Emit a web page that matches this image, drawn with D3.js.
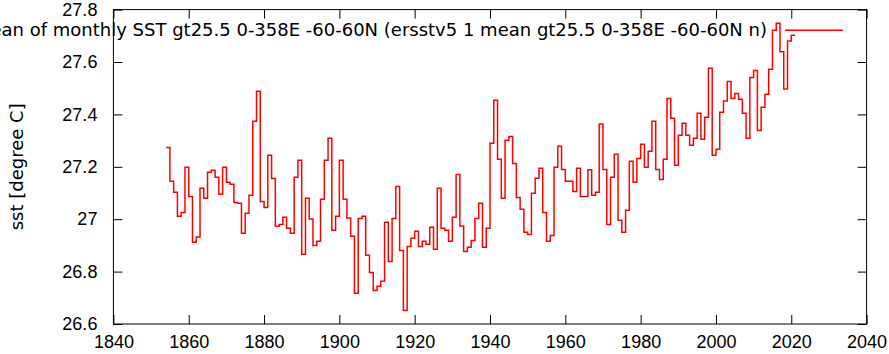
<!DOCTYPE html>
<html>
<head>
<meta charset="utf-8">
<script src="https://cdn.jsdelivr.net/npm/d3@7"></script>
<style>
  body { margin: 0; background: #fff; }
  svg { display: block; font-family: "DejaVu Sans", sans-serif; }
  .tick text { font-size: 18px; fill: #000; }
</style>
</head>
<body>
<svg width="889" height="354"></svg>
<script>
(function () {
  "use strict";

  // annual mean SST (degree C), one value per year starting 1854
  const firstYear = 1854;
  const sst = [
    27.274, 27.145, 27.103, 27.011, 27.026, 27.198, 27.087, 26.912, 26.932, 27.118, // 1854
    27.080, 27.179, 27.187, 27.160, 27.095, 27.198, 27.141, 27.133, 27.064, 27.061, // 1864
    26.946, 27.023, 27.091, 27.374, 27.488, 27.068, 27.045, 27.244, 27.155, 26.973, // 1874
    26.980, 27.007, 26.965, 26.946, 27.160, 27.225, 26.866, 27.080, 27.001, 26.900, // 1884
    26.916, 27.076, 27.225, 27.309, 26.958, 27.011, 27.225, 27.076, 27.005, 26.935, // 1894
    26.717, 27.003, 27.011, 26.862, 26.797, 26.728, 26.744, 26.763, 26.988, 26.839, // 1904
    27.003, 27.125, 26.881, 26.652, 26.896, 26.927, 26.954, 26.896, 26.916, 26.904, // 1914
    26.969, 26.885, 27.118, 26.965, 26.958, 26.916, 27.007, 27.171, 26.974, 26.877, // 1924
    26.893, 26.919, 27.003, 27.061, 26.893, 26.965, 27.290, 27.454, 27.229, 27.080, // 1934
    27.301, 27.316, 27.213, 27.083, 27.038, 26.950, 26.942, 27.099, 27.156, 27.194, // 1944
    27.026, 26.916, 26.938, 27.198, 27.278, 27.190, 27.145, 27.145, 27.106, 27.194, // 1954
    27.087, 27.087, 27.189, 27.091, 27.103, 27.363, 27.190, 26.980, 27.160, 27.248, // 1964
    26.996, 26.950, 27.034, 27.221, 27.141, 27.232, 27.286, 27.198, 27.259, 27.374, // 1974
    27.190, 27.152, 27.229, 27.461, 27.385, 27.206, 27.320, 27.366, 27.320, 27.282, // 1984
    27.309, 27.404, 27.305, 27.389, 27.576, 27.244, 27.267, 27.408, 27.451, 27.526, // 1994
    27.461, 27.480, 27.458, 27.404, 27.309, 27.541, 27.568, 27.339, 27.427, 27.477, // 2004
    27.572, 27.721, 27.748, 27.639, 27.497, 27.680, 27.702                          // 2014
  ];

  const xTicks = [1840, 1860, 1880, 1900, 1920, 1940, 1960, 1980, 2000, 2020, 2040];
  const yTicks = [26.6, 26.8, 27, 27.2, 27.4, 27.6, 27.8];
  const seriesLabel = "mean of monthly SST gt25.5 0-358E -60-60N (ersstv5 1 mean gt25.5 0-358E -60-60N n)";
  const yLabel = "sst [degree C]";

  const svg = d3.select("svg");
  const margin = { top: 9.6, right: 22.4, bottom: 30, left: 113.4 };
  const width = +svg.attr("width");
  const innerWidth = width - margin.left - margin.right;
  const innerHeight = 324 - margin.top;

  const x = d3.scaleLinear().domain([1840, 2040]).range([0, innerWidth]);
  const y = d3.scaleLinear().domain([26.6, 27.8]).range([innerHeight, 0]);

  const g = svg.append("g")
    .attr("transform", `translate(${margin.left},${margin.top})`);

  // step data: each year spans [year, year+1]
  const points = sst.map((v, i) => [firstYear + i, v]);
  points.push([firstYear + sst.length, sst[sst.length - 1]]);

  const tick = 9;

  g.append("g")
    .attr("transform", `translate(0,${innerHeight})`)
    .call(d3.axisBottom(x).tickValues(xTicks).tickFormat(d3.format("d"))
      .tickSize(-tick).tickPadding(11));
  g.append("g")
    .call(d3.axisTop(x).tickValues(xTicks).tickFormat("").tickSize(-tick));

  g.append("g")
    .call(d3.axisLeft(y).tickValues(yTicks).tickFormat((d) => String(d))
      .tickSize(-tick).tickPadding(16));
  g.append("g")
    .attr("transform", `translate(${innerWidth},0)`)
    .call(d3.axisRight(y).tickValues(yTicks).tickFormat("").tickSize(-tick));

  g.selectAll(".domain").remove();
  g.selectAll(".tick line").attr("stroke", "#000").attr("stroke-width", 1);

  g.append("rect")
    .attr("width", innerWidth)
    .attr("height", innerHeight)
    .attr("fill", "none")
    .attr("stroke", "#000")
    .attr("stroke-width", 1);

  const line = d3.line()
    .x((d) => x(d[0]))
    .y((d) => y(d[1]))
    .curve(d3.curveStepAfter);

  g.append("path")
    .datum(points)
    .attr("fill", "none")
    .attr("stroke", "#ff0000")
    .attr("stroke-width", 1.5)
    .attr("d", line);

  // key: right-aligned before the sample line; like the reference, its
  // first letters run off the left edge of the picture
  svg.append("text")
    .attr("x", 767)
    .attr("y", 35.5)
    .attr("text-anchor", "end")
    .attr("font-size", 18)
    .text(seriesLabel);
  svg.append("line")
    .attr("x1", 785).attr("x2", 843)
    .attr("y1", 30.3).attr("y2", 30.3)
    .attr("stroke", "#ff0000")
    .attr("stroke-width", 1.5);

  svg.append("text")
    .attr("transform", `translate(17,${margin.top + innerHeight / 2}) rotate(-90)`)
    .attr("text-anchor", "middle")
    .attr("dy", "0.35em")
    .attr("font-size", 18)
    .text(yLabel);
})();
</script>
</body>
</html>
